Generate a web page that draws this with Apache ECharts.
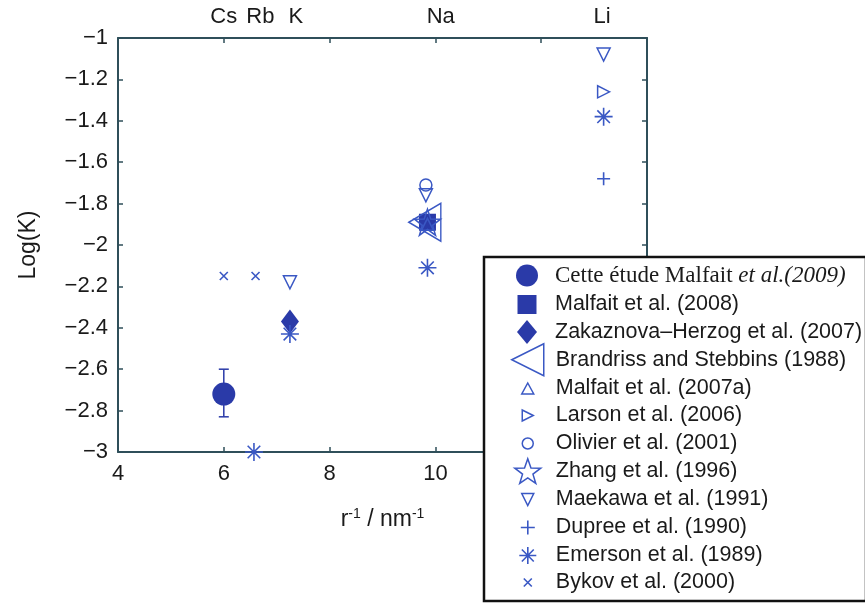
<!DOCTYPE html>
<html>
<head>
<meta charset="utf-8">
<script src="https://cdn.jsdelivr.net/npm/echarts@6/dist/echarts.min.js"></script>
<style>html,body{margin:0;padding:0;background:#fff}#chart{width:865px;height:603px}</style>
</head>
<body>
<div id="chart"></div>
<script>
// ---------- data ----------
const seriesNames = [
  'Cette étude Malfait et al.(2009)',
  'Malfait et al. (2008)',
  'Zakaznova\u2013Herzog et al. (2007)',
  'Brandriss and Stebbins (1988)',
  'Malfait et al. (2007a)',
  'Larson et al. (2006)',
  'Olivier et al. (2001)',
  'Zhang et al. (1996)',
  'Maekawa et al. (1991)',
  'Dupree et al. (1990)',
  'Emerson et al. (1989)',
  'Bykov et al. (2000)'
];
const cetteX = [6.0],  cetteY = [-2.72];
const cetteErrLow = [-2.83], cetteErrHigh = [-2.60];
const malfait2008X = [9.85], malfait2008Y = [-1.89];
const zakaznovaX = [7.25], zakaznovaY = [-2.37];
const brandrissX = [9.8], brandrissY = [-1.89];
const malfait2007aX = [9.85], malfait2007aY = [-1.90];
const larsonX = [13.18], larsonY = [-1.26];
const olivierX = [9.82], olivierY = [-1.71];
const zhangX = [9.85], zhangY = [-1.89];
const maekawaX = [7.25, 9.82, 13.18], maekawaY = [-2.18, -1.76, -1.08];
const dupreeX = [13.18], dupreeY = [-1.68];
const emersonX = [6.57, 7.25, 9.85, 13.18], emersonY = [-3.0, -2.43, -2.11, -1.38];
const bykovX = [6.0, 6.6], bykovY = [-2.15, -2.15];

const xTicks = [4, 6, 8, 10, 12, 14];
const yTicks = [-3, -2.8, -2.6, -2.4, -2.2, -2, -1.8, -1.6, -1.4, -1.2, -1];
const topLabels = ['Cs', 'Rb', 'K', 'Na', 'Li'];
const topLabelAt = [6.0, 6.69, 7.36, 10.1, 13.15];

// ---------- styles ----------
const FILL = '#2a3aa8';
const LINE = '#3a58c4';
const P = {
  leftTri: 'path://M0,50 L100,0 L100,100 Z',
  rightTri: 'path://M100,50 L0,0 L0,100 Z',
  downTri: 'path://M0,0 L100,0 L50,100 Z',
  star: 'path://M50,0 L61.76,33.82 L97.55,34.55 L69.02,56.18 L79.39,90.45 L50,70 L20.61,90.45 L30.98,56.18 L2.45,34.55 L38.24,33.82 Z',
  plus: 'path://M50,0 L50,100 M0,50 L100,50',
  aster: 'path://M50,0 L50,100 M0,50 L100,50 M15,15 L85,85 M15,85 L85,15',
  cross: 'path://M0,0 L100,100 M0,100 L100,0'
};
const filled = { color: FILL, borderColor: FILL, borderWidth: 0, opacity: 1 };
const hollow = w => ({ color: 'rgba(255,255,255,0)', borderColor: LINE, borderWidth: w, opacity: 1 });

function zip(xs, ys) { return xs.map((x, i) => [x, ys[i]]); }

// per series: symbol, plot size, legend icon size, style, legend row centre
const defs = [
  { d: zip(cetteX, cetteY), sym: 'circle', size: 23, li: [22, 22], st: filled, row: 275 },
  { d: zip(malfait2008X, malfait2008Y), sym: 'rect', size: 17, li: [19, 19], st: filled, row: 304 },
  { d: zip(zakaznovaX, zakaznovaY), sym: 'diamond', size: [18, 24], li: [20, 24], st: filled, row: 332 },
  { d: zip(brandrissX, brandrissY), sym: P.leftTri, size: [32, 38], li: [32, 40], st: hollow(1.5), row: 363 },
  { d: zip(malfait2007aX, malfait2007aY), sym: 'triangle', size: 12, li: [12, 11], st: hollow(1.5), row: 388 },
  { d: zip(larsonX, larsonY), sym: P.rightTri, size: 12, li: [11, 12], st: hollow(1.5), row: 415 },
  { d: zip(olivierX, olivierY), sym: 'circle', size: 12, li: [11, 11], st: hollow(1.5), row: 443 },
  { d: zip(zhangX, zhangY), sym: P.star, size: 26, li: [26, 26], st: hollow(1.5), row: 471 },
  { d: zip(maekawaX, maekawaY), sym: P.downTri, size: 13, li: [12, 12], st: hollow(1.5), row: 499 },
  { d: zip(dupreeX, dupreeY), sym: P.plus, size: 13, li: [14, 14], st: hollow(1.6), row: 527 },
  { d: zip(emersonX, emersonY), sym: P.aster, size: 18, li: [17, 17], st: hollow(1.6), row: 555 },
  { d: zip(bykovX, bykovY), sym: P.cross, size: 8, li: [8, 8], st: hollow(1.6), row: 582 }
];

const series = defs.map((s, i) => ({
  name: seriesNames[i],
  type: 'scatter',
  xAxisIndex: 0, yAxisIndex: 0,
  symbol: s.sym,
  symbolSize: s.size,
  itemStyle: s.st,
  emphasis: { disabled: true },
  data: s.d,
  z: 3
}));

// error bar
series.push({
  type: 'custom',
  xAxisIndex: 0, yAxisIndex: 0,
  z: 2,
  data: cetteX.map((x, i) => [x, cetteErrLow[i], cetteErrHigh[i]]),
  encode: { x: 0, y: [1, 2] },
  renderItem: function (params, api) {
    const lo = api.coord([api.value(0), api.value(1)]);
    const hi = api.coord([api.value(0), api.value(2)]);
    const w = 5;
    const st = { stroke: FILL, lineWidth: 1.5 };
    return {
      type: 'group',
      children: [
        { type: 'line', shape: { x1: lo[0], y1: lo[1], x2: hi[0], y2: hi[1] }, style: st },
        { type: 'line', shape: { x1: lo[0] - w, y1: lo[1], x2: lo[0] + w, y2: lo[1] }, style: st },
        { type: 'line', shape: { x1: hi[0] - w, y1: hi[1], x2: hi[0] + w, y2: hi[1] }, style: st }
      ]
    };
  }
});

// legends: one per entry so icon sizes can differ
const LEG_CX = 527, TEXT_X = 555, TEXT_H = 21;
const legends = defs.map((s, i) => {
  const rowH = Math.max(s.li[1], TEXT_H);
  return {
    data: [{ name: seriesNames[i], icon: typeof s.sym === 'string' ? s.sym : undefined }],
    orient: 'vertical',
    left: LEG_CX - s.li[0] / 2,
    top: s.row - rowH / 2,
    itemWidth: s.li[0],
    itemHeight: s.li[1],
    itemGap: 0,
    padding: 0,
    z: 200,
    selectedMode: false,
    itemStyle: Object.assign({}, s.st),
    textStyle: {
      color: '#1a1a1a',
      fontFamily: 'Liberation Sans, Arial, sans-serif',
      fontSize: 21.5,
      padding: [0, 0, 0, TEXT_X - (LEG_CX + s.li[0] / 2) - 5],
      rich: {
        s: { fontFamily: 'Liberation Serif, Times New Roman, serif', fontSize: 23, color: '#1a1a1a' },
        i: { fontFamily: 'Liberation Serif, Times New Roman, serif', fontStyle: 'italic', fontSize: 23, color: '#1a1a1a' }
      }
    },
    formatter: function (name) {
      if (i === 0) return '{s|Cette étude Malfait }{i|et al.(2009)}';
      return name;
    }
  };
});

const minus = v => String(v).replace('-', '\u2212');
const tickFont = { fontFamily: 'Liberation Sans, Arial, sans-serif', fontSize: 22, color: '#1a1a1a' };
const axisLine = { show: true, lineStyle: { color: '#2f4f5a', width: 2 } };

const option = {
  backgroundColor: '#fff',
  animation: false,
  grid: { left: 118, right: 218, top: 38, bottom: 151, containLabel: false },
  xAxis: [
    {
      type: 'value', position: 'bottom', min: 4, max: 14, interval: 2,
      axisLine: axisLine,
      axisTick: { inside: true, length: 5, lineStyle: { color: '#2f4f5a', width: 1.5 } },
      axisLabel: Object.assign({ margin: 11, formatter: v => minus(v) }, tickFont),
      splitLine: { show: false },
      name: '{a|r}{s|-1}{a| / nm}{s|-1}',
      nameLocation: 'middle', nameGap: 55,
      nameTextStyle: {
        rich: {
          a: { fontFamily: 'Liberation Sans, Arial, sans-serif', fontSize: 23, color: '#1a1a1a' },
          s: { fontFamily: 'Liberation Sans, Arial, sans-serif', fontSize: 14, color: '#1a1a1a', verticalAlign: 'top', padding: [0, 0, 12, 0] }
        }
      }
    },
    {
      type: 'value', position: 'top', min: 4, max: 14, interval: 2,
      axisLine: axisLine,
      axisTick: { inside: true, length: 5, customValues: [6, 8, 10, 12], lineStyle: { color: '#2f4f5a', width: 1.5 } },
      axisLabel: Object.assign({
        margin: 10,
        customValues: topLabelAt,
        formatter: function (v) {
          const k = topLabelAt.indexOf(v);
          return k >= 0 ? topLabels[k] : '';
        }
      }, tickFont),
      splitLine: { show: false }
    }
  ],
  yAxis: [
    {
      type: 'value', position: 'left', min: -3, max: -1, interval: 0.2,
      axisLine: axisLine,
      axisTick: { inside: true, length: 5, lineStyle: { color: '#2f4f5a', width: 1.5 } },
      axisLabel: Object.assign({ margin: 10, formatter: v => minus(Math.round(v * 10) / 10) }, tickFont),
      splitLine: { show: false },
      name: 'Log(K)', nameLocation: 'middle', nameGap: 78, nameRotate: 90,
      nameTextStyle: { fontFamily: 'Liberation Sans, Arial, sans-serif', fontSize: 23, color: '#1a1a1a' }
    },
    {
      type: 'value', position: 'right', min: -3, max: -1, interval: 0.2,
      axisLine: axisLine,
      axisTick: { inside: true, length: 5, lineStyle: { color: '#2f4f5a', width: 1.5 } },
      axisLabel: { show: false },
      splitLine: { show: false }
    }
  ],
  legend: legends,
  graphic: [{
    type: 'rect', z: 100,
    shape: { x: 484, y: 257, width: 382, height: 344 },
    style: { fill: '#fff', stroke: '#111', lineWidth: 2.5 }
  }],
  series: series
};

const chart = echarts.init(document.getElementById('chart'), null, { renderer: 'canvas' });
chart.setOption(option);
</script>
</body>
</html>
